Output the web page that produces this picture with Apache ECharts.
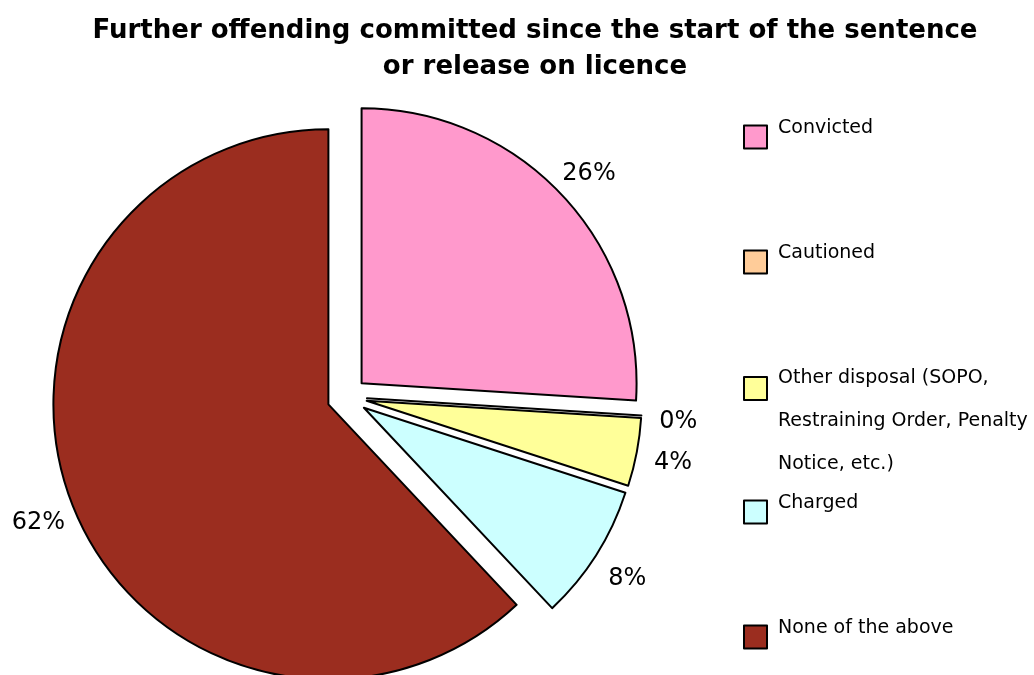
<!DOCTYPE html>
<html>
<head>
<meta charset="utf-8">
<style>
  html, body { margin: 0; padding: 0; background: #fff; }
  #chart { width: 1034px; height: 675px; }
</style>
<script src="https://cdn.jsdelivr.net/npm/echarts@6/dist/echarts.min.js"></script>
</head>
<body>
<div id="chart"></div>
<script>
// Outcome categories and their shares (%)
const categories = [
  'Convicted',
  'Cautioned',
  'Other disposal (SOPO,\nRestraining Order, Penalty\nNotice, etc.)',
  'Charged',
  'None of the above'
];
const shares = [26, 0, 4, 8, 62];
const sliceColors = ['#FF99CC', '#FFCC99', '#FFFF99', '#CCFFFF', '#9B2D1F'];
const titleText = 'Further offending committed since the start of the sentence\nor release on licence';

const FONT = 'DejaVu Sans';
const LEGEND_SIZE = 19;

const pieData = categories.map((name, i) => ({
  name: name,
  value: shares[i],
  selected: true,
  itemStyle: { color: sliceColors[i] }
}));

// Legend text sits a little above the swatch centre; wrapped names run downward
function legendText(name) {
  const lines = name.split('\n');
  if (lines.length > 1) {
    return '{gapTop| }\n' + lines.map(l => '{ml|' + l + '}').join('\n');
  }
  return '{sl|' + name + '}\n{gapBot| }';
}

const legendRich = {
  sl: { fontFamily: FONT, fontSize: LEGEND_SIZE, color: '#000', lineHeight: 24, padding: [0, 0, 0, 6] },
  ml: { fontFamily: FONT, fontSize: LEGEND_SIZE, color: '#000', lineHeight: 43, padding: [0, 0, 0, 6] },
  gapTop: { fontSize: 1, lineHeight: 65 },
  gapBot: { fontSize: 1, lineHeight: 17 }
};

// One legend block per category so the swatches sit on an even vertical rhythm
const legends = categories.map((name, i) => {
  const multiLine = name.indexOf('\n') >= 0;
  const iconTop = 126 + i * 125;
  return {
    orient: 'vertical',
    left: 743,
    top: multiLine ? iconTop - 52.5 : iconTop - 7,
    padding: 0,
    icon: 'rect',
    itemWidth: 23,
    itemHeight: 23,
    selectedMode: false,
    itemStyle: { borderColor: '#000', borderWidth: 2 },
    formatter: legendText,
    textStyle: {
      fontFamily: FONT,
      fontSize: LEGEND_SIZE,
      color: '#000',
      rich: legendRich
    },
    data: [name]
  };
});

const chart = echarts.init(document.getElementById('chart'), null, { renderer: 'canvas' });
chart.setOption({
  animation: false,
  backgroundColor: '#fff',
  title: {
    text: titleText,
    left: 535,
    textAlign: 'center',
    top: 13,
    padding: 0,
    textStyle: {
      fontFamily: FONT,
      fontSize: 26,
      fontWeight: 'bold',
      color: '#000',
      lineHeight: 36
    }
  },
  legend: legends,
  series: [{
    type: 'pie',
    center: [347, 397],
    radius: 275,
    startAngle: 90,
    clockwise: true,
    selectedMode: 'multiple',
    selectedOffset: 20,
    avoidLabelOverlap: false,
    emphasis: { disabled: true },
    itemStyle: { borderColor: '#000', borderWidth: 2 },
    select: { itemStyle: { borderColor: '#000', borderWidth: 2 } },
    label: {
      show: true,
      position: 'outside',
      formatter: '{d}%',
      fontFamily: FONT,
      fontSize: 24,
      color: '#000',
      distanceToLabelLine: 0
    },
    labelLine: { show: false, length: 37, length2: 0 },
    labelLayout: { align: 'center', dy: 4 },
    data: pieData
  }]
});
</script>
</body>
</html>
